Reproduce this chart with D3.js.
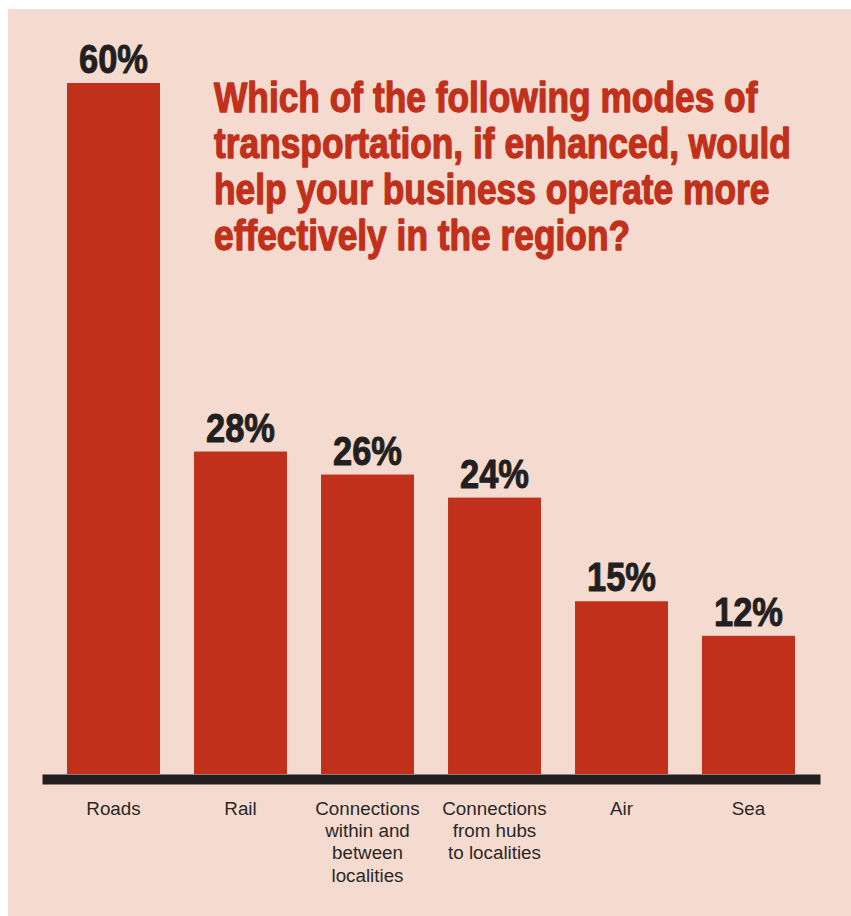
<!DOCTYPE html>
<html>
<head>
<meta charset="utf-8">
<script src="https://cdn.jsdelivr.net/npm/d3@7"></script>
<style>
  html, body { margin: 0; padding: 0; background: #ffffff; }
  svg { display: block; }
</style>
</head>
<body>
<svg id="chart" width="851" height="916"></svg>
<script>
// Survey responses: share of businesses naming each transport mode
const categories = ["Roads", "Rail", "Connections within and between localities", "Connections from hubs to localities", "Air", "Sea"];
const categoryLines = [
  ["Roads"],
  ["Rail"],
  ["Connections", "within and", "between", "localities"],
  ["Connections", "from hubs", "to localities"],
  ["Air"],
  ["Sea"]
];
const values = [60, 28, 26, 24, 15, 12];
const titleLines = [
  "Which of the following modes of",
  "transportation, if enhanced, would",
  "help your business operate more",
  "effectively in the region?"
];

const RED = "#c0301b";
const INK = "#231f20";
const PANEL = "#f5dbcf";
const HEAVY = "'Liberation Sans', Arial, sans-serif";
const TITLE_WIDTH = 577;   // widest title line, px

const svg = d3.select("#chart");

// Panel behind the chart
svg.append("rect")
  .attr("x", 8).attr("y", 9)
  .attr("width", 851 - 8).attr("height", 916 - 9)
  .attr("fill", PANEL);

const x = d3.scaleBand()
  .domain(categories)
  .range([42, 820])
  .paddingInner(0.268)
  .paddingOuter(0.197);

const y = d3.scaleLinear()
  .domain([0, 60])
  .range([774, 83]);

// Question title, set in a condensed heavy face (bold squeezed horizontally,
// with a thin matching outline for extra weight)
const titleG = svg.append("g");
const title = titleG.append("text")
  .attr("font-family", HEAVY)
  .attr("font-weight", 700)
  .attr("font-size", 42)
  .attr("fill", RED)
  .attr("stroke", RED)
  .attr("stroke-width", 1.3)
  .attr("stroke-linejoin", "round");
titleLines.forEach((line, k) => {
  title.append("tspan")
    .attr("x", 0)
    .attr("y", 112 + k * 46)
    .text(line);
});
const widest = d3.max(title.selectAll("tspan").nodes(), n => n.getComputedTextLength());
const condense = TITLE_WIDTH / widest;
titleG.attr("transform", `translate(214,0) scale(${condense},1)`);

// Bars
svg.append("g").selectAll("rect")
  .data(values)
  .join("rect")
  .attr("x", (d, i) => x(categories[i]))
  .attr("y", d => y(d))
  .attr("width", x.bandwidth())
  .attr("height", d => y(0) - y(d))
  .attr("fill", RED);

// Value labels
svg.append("g").selectAll("text")
  .data(values)
  .join("text")
  .attr("transform", (d, i) =>
    `translate(${x(categories[i]) + x.bandwidth() / 2},${y(d) - 10}) scale(${condense},1)`)
  .attr("text-anchor", "middle")
  .attr("font-family", HEAVY)
  .attr("font-weight", 700)
  .attr("font-size", 41)
  .attr("fill", INK)
  .attr("stroke", INK)
  .attr("stroke-width", 1)
  .attr("stroke-linejoin", "round")
  .text(d => d + "%");

// Baseline axis drawn as a heavy rule
const axis = svg.append("g")
  .attr("transform", "translate(0,779)")
  .call(d3.axisBottom(x).tickSize(0).tickSizeOuter(0).tickFormat(""));
axis.select(".domain")
  .attr("stroke", INK)
  .attr("stroke-width", 10);

// Multi-line category labels
axis.selectAll(".tick text").remove();
axis.selectAll(".tick").each(function (d) {
  const lines = categoryLines[categories.indexOf(d)];
  const t = d3.select(this).append("text")
    .attr("text-anchor", "middle")
    .attr("font-family", "'Liberation Sans', Arial, sans-serif")
    .attr("font-size", 18.8)
    .attr("fill", "#2b2728");
  lines.forEach((line, k) => {
    t.append("tspan")
      .attr("x", 0)
      .attr("y", 36 + k * 22.2)
      .text(line);
  });
});
</script>
</body>
</html>
